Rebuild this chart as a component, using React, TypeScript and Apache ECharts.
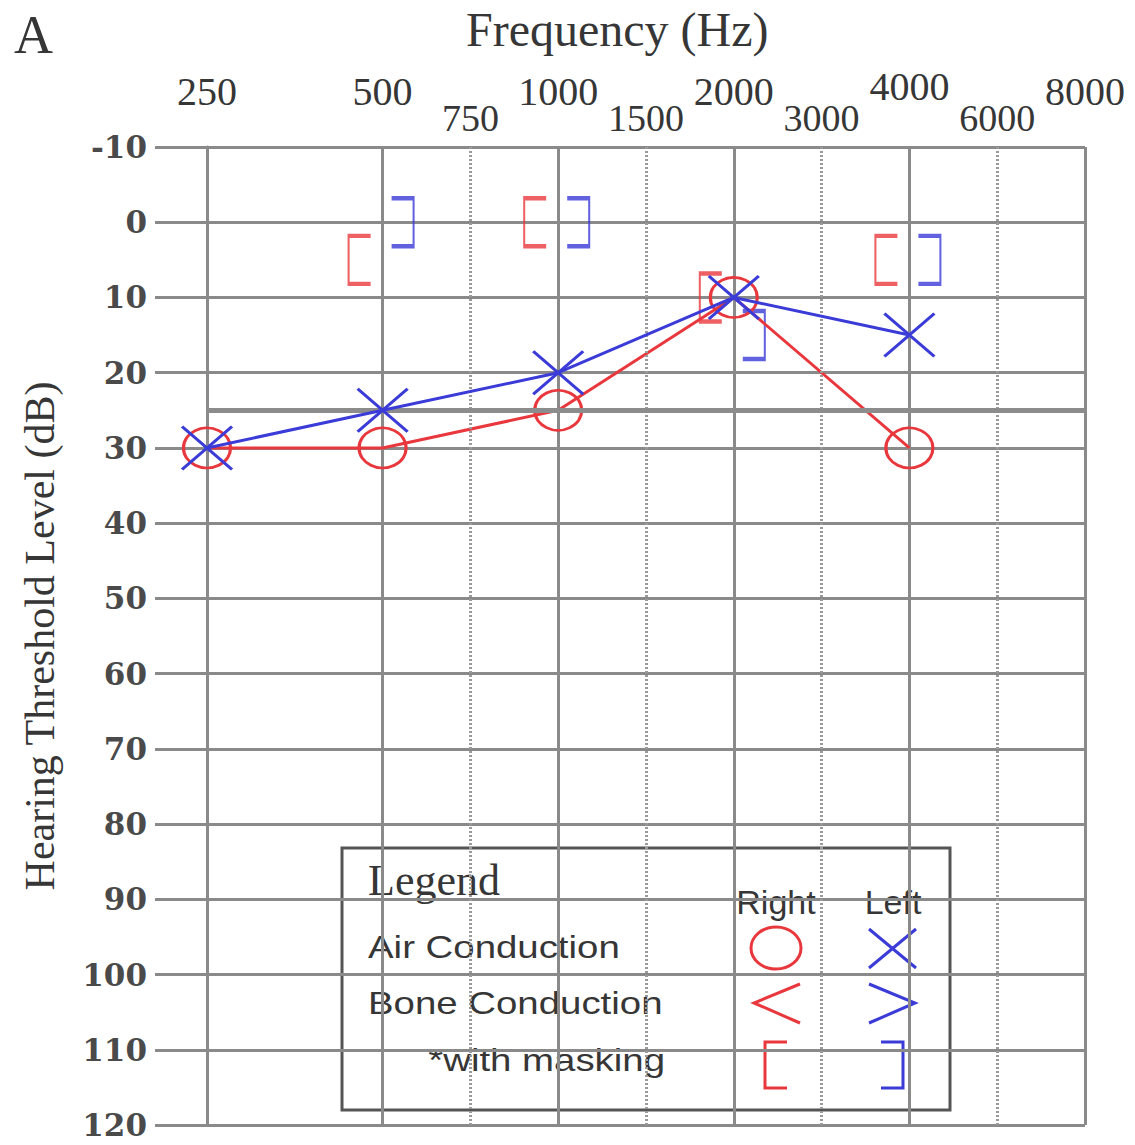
import React, { useEffect, useRef } from "react";
import * as echarts from "echarts";

// ---- data ----
const freqLabels = ["250", "500", "1000", "2000", "4000", "8000"];
const halfFreqLabels = ["750", "1500", "3000", "6000"];
const halfFreqPositions = [1.5, 2.5, 3.5, 4.5];
const yMin = -10;
const yMax = 120;
const yStep = 10;

const testFreqs = ["250", "500", "1000", "2000", "4000"];
const rightAir = [30, 30, 25, 10, 30];
const leftAir = [30, 25, 20, 10, 15];

const maskedFreqs = ["500", "1000", "2000", "4000"];
const rightBoneMasked = [5, 0, 10, 5];
const leftBoneMasked = [0, 0, 15, 5];

const normalLimit = 25;

// ---- style ----
const RED = "#e8383d";
const BLUE = "#3b3bd8";
const GRID = "#8a8a8a";
const TEXT = "#363636";

const toPairs = (freqs: string[], vals: number[]) =>
  freqs.map((f, i) => [freqLabels.indexOf(f), vals[i]]);

export default function App() {
  const ref = useRef<HTMLDivElement>(null);

  useEffect(() => {
    if (!ref.current) return;
    const chart = echarts.init(ref.current, null, { renderer: "svg" });

    const legendSans = {
      fontFamily: "Liberation Sans",
      fontSize: 32,
      fill: TEXT,
    };

    const option: any = {
      animation: false,
      backgroundColor: "#ffffff",
      title: [
        {
          text: "A",
          left: 14,
          top: 8,
          padding: 0,
          textStyle: {
            fontFamily: "Liberation Serif",
            fontSize: 54,
            fontWeight: "normal",
            color: TEXT,
          },
        },
        {
          text: "Frequency (Hz)",
          left: 466,
          top: 5,
          padding: 0,
          textStyle: {
            fontFamily: "Liberation Serif",
            fontSize: 48,
            fontWeight: "normal",
            color: TEXT,
          },
        },
      ],
      grid: {
        left: 207,
        right: 50,
        top: 147,
        bottom: 20,
        outerBoundsMode: "none",
        containLabel: false,
      },
      xAxis: [
        {
          type: "value",
          position: "top",
          min: 0,
          max: freqLabels.length - 1,
          interval: 1,
          axisLine: { show: true, lineStyle: { color: GRID, width: 3 } },
          axisTick: {
            show: true,
            inside: false,
            length: 28,
            lineStyle: { color: GRID, width: 3 },
          },
          splitLine: { show: true, lineStyle: { color: GRID, width: 3 } },
          axisLabel: {
            margin: 36,
            formatter: (v: number) => {
              const s = freqLabels[Math.round(v)] ?? "";
              return Math.round(v) === 4 ? "{r|" + s + "}" : "{n|" + s + "}";
            },
            rich: {
              n: {
                fontFamily: "Liberation Serif",
                fontSize: 40,
                color: TEXT,
              },
              r: {
                fontFamily: "Liberation Serif",
                fontSize: 40,
                color: TEXT,
                padding: [0, 0, 5, 0],
              },
            },
          },
        },
        {
          type: "value",
          position: "top",
          min: 0,
          max: freqLabels.length - 1,
          interval: 0.5,
          axisLine: { show: false },
          axisTick: { show: false },
          splitLine: { show: false },
          axisLabel: {
            margin: 10,
            fontFamily: "Liberation Serif",
            fontSize: 38,
            color: TEXT,
            formatter: (v: number) => {
              const k = halfFreqPositions.findIndex((p) => Math.abs(p - v) < 1e-6);
              return k >= 0 ? halfFreqLabels[k] : "";
            },
          },
        },
      ],
      yAxis: {
        type: "value",
        inverse: true,
        min: yMin,
        max: yMax,
        interval: yStep,
        name: "Hearing Threshold Level (dB)",
        nameLocation: "middle",
        nameRotate: 90,
        nameGap: 146,
        nameTextStyle: {
          fontFamily: "Liberation Serif",
          fontSize: 42,
          color: TEXT,
        },
        axisLine: { show: true, lineStyle: { color: GRID, width: 3 } },
        axisTick: {
          show: true,
          inside: false,
          length: 52,
          lineStyle: { color: GRID, width: 3 },
        },
        splitLine: { show: true, lineStyle: { color: GRID, width: 3 } },
        axisLabel: {
          margin: 60,
          fontFamily: "DejaVu Serif",
          fontWeight: "bold",
          fontSize: 31,
          color: "#4a4a4a",
        },
      },
      series: [
        {
          name: "Half-octave lines",
          type: "line",
          data: [],
          markLine: {
            silent: true,
            symbol: ["none", "none"],
            label: { show: false },
            lineStyle: { color: "#9a9a9a", width: 3, type: [2, 2] },
            data: halfFreqPositions.map((p) => ({ xAxis: p })),
          },
          z: 1,
        },
        {
          name: "Right bone masked",
          type: "scatter",
          data: toPairs(maskedFreqs, rightBoneMasked),
          symbol: "path://M10,0L0,0L0,40L10,40",
          symbolSize: [22, 48],
          symbolOffset: [-23, 0],
          itemStyle: { color: "rgba(0,0,0,0)", borderColor: RED, borderWidth: 3 },
          clip: false,
          z: 3,
          markLine: {
            silent: true,
            symbol: ["none", "none"],
            label: { show: false },
            lineStyle: { color: "#8c8c8c", width: 5, type: "solid" },
            data: [{ yAxis: normalLimit }],
          },
        },
        {
          name: "Left bone masked",
          type: "scatter",
          data: toPairs(maskedFreqs, leftBoneMasked),
          symbol: "path://M0,0L10,0L10,40L0,40",
          symbolSize: [22, 48],
          symbolOffset: [20, 0],
          itemStyle: { color: "rgba(0,0,0,0)", borderColor: BLUE, borderWidth: 3 },
          clip: false,
          z: 3,
        },
        {
          name: "Right air",
          type: "line",
          data: toPairs(testFreqs, rightAir),
          symbol: "circle",
          symbolSize: [47, 40],
          showAllSymbol: true,
          lineStyle: { color: RED, width: 3 },
          itemStyle: { color: "rgba(0,0,0,0)", borderColor: RED, borderWidth: 3 },
          clip: false,
          z: 4,
        },
        {
          name: "Left air",
          type: "line",
          data: toPairs(testFreqs, leftAir),
          symbol: "path://M0,0L10,10M10,0L0,10",
          symbolSize: [50, 43],
          showAllSymbol: true,
          lineStyle: { color: BLUE, width: 3 },
          itemStyle: { color: "rgba(0,0,0,0)", borderColor: BLUE, borderWidth: 3 },
          clip: false,
          z: 5,
        },
      ],
      graphic: [
        {
          type: "group",
          z: 100,
          children: [
            {
              type: "rect",
              shape: { x: 342, y: 848, width: 608, height: 262 },
              style: { fill: "#ffffff", stroke: "#555555", lineWidth: 3 },
            },
            {
              type: "text",
              x: 368,
              y: 880,
              style: {
                text: "Legend",
                fontFamily: "Liberation Serif",
                fontSize: 44,
                fill: TEXT,
                verticalAlign: "middle",
              },
            },
            {
              type: "text",
              x: 776,
              y: 902,
              style: { ...legendSans, text: "Right", textAlign: "center", verticalAlign: "middle", fontSize: 34 },
            },
            {
              type: "text",
              x: 893,
              y: 902,
              style: { ...legendSans, text: "Left", textAlign: "center", verticalAlign: "middle", fontSize: 34 },
            },
            {
              type: "text",
              x: 368,
              y: 947,
              scaleX: 1.2,
              style: { ...legendSans, text: "Air Conduction", textAlign: "left", verticalAlign: "middle" },
            },
            {
              type: "text",
              x: 368,
              y: 1003,
              scaleX: 1.2,
              style: { ...legendSans, text: "Bone Conduction", textAlign: "left", verticalAlign: "middle" },
            },
            {
              type: "text",
              x: 665,
              y: 1060,
              scaleX: 1.2,
              style: { ...legendSans, text: "*with masking", textAlign: "right", verticalAlign: "middle" },
            },
            {
              type: "ellipse",
              shape: { cx: 776, cy: 948, rx: 25, ry: 21 },
              style: { fill: "none", stroke: RED, lineWidth: 3 },
            },
            {
              type: "line",
              shape: { x1: 869, y1: 929, x2: 916, y2: 968 },
              style: { stroke: BLUE, lineWidth: 3 },
            },
            {
              type: "line",
              shape: { x1: 869, y1: 968, x2: 916, y2: 929 },
              style: { stroke: BLUE, lineWidth: 3 },
            },
            {
              type: "polyline",
              shape: { points: [[800, 984], [754, 1003], [800, 1023]] },
              style: { fill: "none", stroke: RED, lineWidth: 3 },
            },
            {
              type: "polyline",
              shape: { points: [[869, 984], [915, 1003], [869, 1023]] },
              style: { fill: "none", stroke: BLUE, lineWidth: 3 },
            },
            {
              type: "polyline",
              shape: { points: [[787, 1042], [765, 1042], [765, 1088], [787, 1088]] },
              style: { fill: "none", stroke: RED, lineWidth: 3 },
            },
            {
              type: "polyline",
              shape: { points: [[881, 1042], [903, 1042], [903, 1088], [881, 1088]] },
              style: { fill: "none", stroke: BLUE, lineWidth: 3 },
            },
          ],
        },
      ],
    };

    chart.setOption(option);
    return () => chart.dispose();
  }, []);

  return (
    <div
      ref={ref}
      style={{
        position: "absolute",
        left: 0,
        top: 0,
        width: 1135,
        height: 1145,
        background: "#ffffff",
      }}
    />
  );
}
